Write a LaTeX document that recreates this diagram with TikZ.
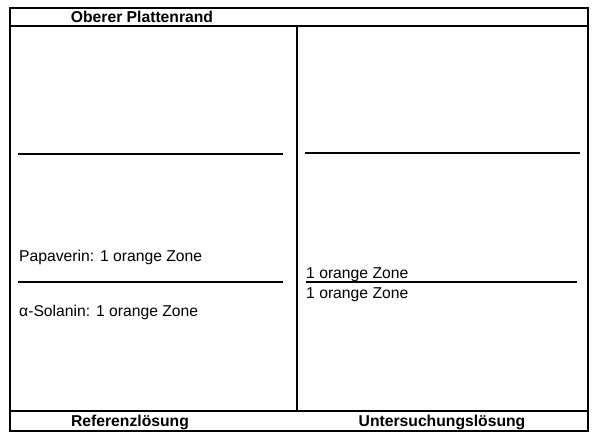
\documentclass[tikz,border=0pt]{standalone}
\usepackage{fontspec}
\setmainfont{Liberation Sans}
\begin{document}
\begin{tikzpicture}[x=1pt,y=-1pt,
  txt/.style={font=\fontsize{15.7}{18}\selectfont, inner sep=0pt},
  hd/.style={font=\fontsize{15.7}{18}\selectfont\bfseries, inner sep=0pt},
  frame/.style={line width=1.4pt},
  rule/.style={line width=1.1pt}]
\useasboundingbox (0,0) rectangle (600,441);
\draw[frame] (10,8) rectangle (588,431);
\draw[rule] (10,26) -- (588,26);
\draw[rule] (10,411) -- (588,411);
\draw[rule] (297,26) -- (297,411);
% left column lines
\draw[rule] (18,154) -- (283,154);
\draw[rule] (18,282) -- (283,282);
% right column lines
\draw[rule] (305,153) -- (580,153);
\draw[rule] (306,282) -- (577,282);
% texts
\node[hd, anchor=base] (top) at (142,22.7) {Oberer Plattenrand};
\node[hd, anchor=base] (ref) at (130,426) {Referenzlösung};
\node[hd, anchor=base] (unt) at (442,426) {Untersuchungslösung};
\node[txt, anchor=base west] (pap) at (19,261) {Papaverin: 1 orange Zone};
\node[txt, anchor=base west] (sol) at (19,316) {α-Solanin: 1 orange Zone};
\node[txt, anchor=base west] (z1) at (306,278) {1 orange Zone};
\node[txt, anchor=base west] (z2) at (306,298) {1 orange Zone};
\end{tikzpicture}
\end{document}
